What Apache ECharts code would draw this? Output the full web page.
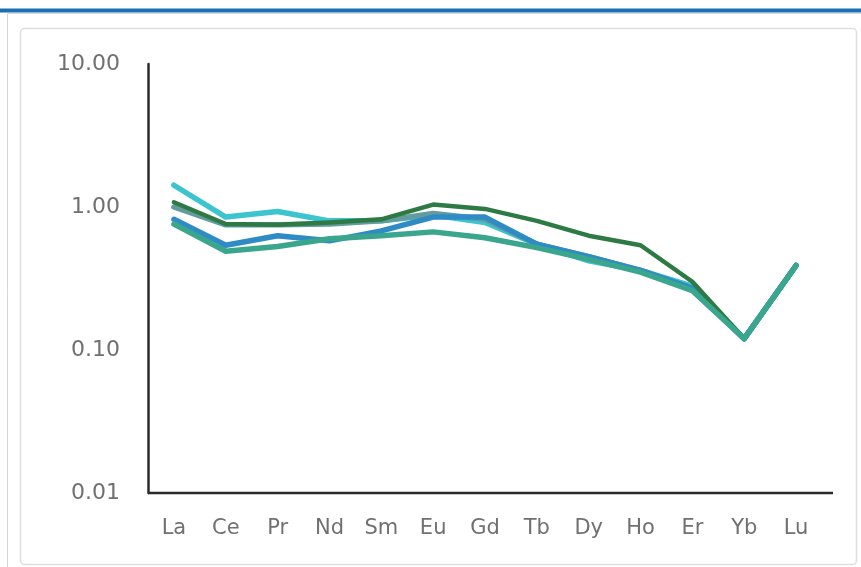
<!DOCTYPE html>
<html>
<head>
<meta charset="utf-8">
<script src="https://cdn.jsdelivr.net/npm/echarts@6/dist/echarts.min.js"></script>
<style>
html,body{margin:0;padding:0;background:#fff;}
#chart{width:861px;height:567px;}
</style>
</head>
<body>
<div id="chart"></div>
<script>
const categories = ['La','Ce','Pr','Nd','Sm','Eu','Gd','Tb','Dy','Ho','Er','Yb','Lu'];
const yTicks = [0.01, 0.1, 1, 10];

const seriesCyan  = [1.42, 0.85, 0.93, 0.80, 0.80, 0.88, 0.78, 0.55, 0.42, 0.36, 0.28, 0.12, 0.39];
const seriesDarkGreen = [1.08, 0.76, 0.75, 0.78, 0.82, 1.04, 0.97, 0.80, 0.63, 0.54, 0.30, 0.12, 0.39];
const seriesGrey  = [1.00, 0.75, 0.75, 0.76, 0.80, 0.90, 0.82, 0.55, 0.45, 0.36, 0.27, 0.12, 0.39];
const seriesBlue  = [0.82, 0.54, 0.63, 0.58, 0.68, 0.85, 0.85, 0.55, 0.45, 0.36, 0.27, 0.12, 0.39];
const seriesTeal  = [0.76, 0.49, 0.53, 0.60, 0.63, 0.67, 0.61, 0.52, 0.43, 0.35, 0.26, 0.12, 0.39];

const chart = echarts.init(document.getElementById('chart'));
const font = 'DejaVu Sans';
function mk(name, data, color, width){
  return {name, type:'line', data, symbol:'none', smooth:false,
    lineStyle:{color, width, cap:'round', join:'round'}, itemStyle:{color}, z:2};
}
chart.setOption({
  animation:false,
  backgroundColor:'#fff',
  grid:{left:148, right:39, top:64, bottom:74, containLabel:false},
  xAxis:{type:'category', data:categories, boundaryGap:true,
    axisLine:{show:false},
    axisTick:{show:false},
    axisLabel:{color:'#707070', fontFamily:font, fontSize:21, margin:25}},
  yAxis:{type:'log', logBase:10, min:0.01, max:10,
    axisLine:{show:true, lineStyle:{color:'#2a2a2a', width:2.5}},
    axisTick:{show:false}, splitLine:{show:false},
    axisLabel:{color:'#707070', fontFamily:font, fontSize:22, margin:28,
      formatter:v=>Number(v).toFixed(2)}},
  series:[
    mk('A', seriesCyan, '#3cc4cf', 5.5),
    mk('B', seriesGrey, '#639c9c', 5.5),
    mk('C', seriesBlue, '#2f8bc6', 5.5),
    mk('D', seriesDarkGreen, '#2e7a45', 4.5),
    mk('E', seriesTeal, '#3aa68e', 5.5)
  ]
});
const gridRect = chart.getModel().getComponent('grid').coordinateSystem.getRect();
const yBase = chart.convertToPixel({yAxisIndex:0}, 0.01);
chart.setOption({graphic:[
  {type:'rect', shape:{x:0,y:8.5,width:861,height:4}, style:{fill:'#1a6fb7'}, silent:true},
  {type:'rect', shape:{x:7.5,y:13.5,width:860,height:560}, style:{fill:'none', stroke:'#d6d6d6', lineWidth:1}, silent:true},
  {type:'rect', shape:{x:20.5,y:28.5,width:836,height:536, r:4}, style:{fill:'none', stroke:'#dedede', lineWidth:1.5}, silent:true},
  {type:'line', shape:{x1:gridRect.x, y1:yBase, x2:gridRect.x + gridRect.width + 11, y2:yBase},
    style:{stroke:'#2a2a2a', lineWidth:2.5}, silent:true, z:10}
]});
</script>
</body>
</html>
